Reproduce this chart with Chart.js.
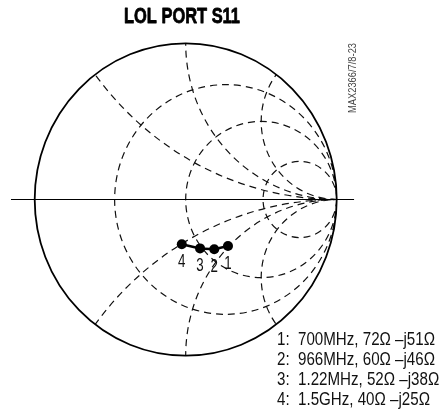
<!DOCTYPE html>
<html><head><meta charset="utf-8">
<script src="https://cdn.jsdelivr.net/npm/chart.js@4"></script>
<style>html,body{margin:0;padding:0;background:#fff}#wrap{width:440px;height:412px;position:relative}</style>
</head><body><div id="wrap"><canvas id="c" width="440" height="412"></canvas></div>
<script>
// ---- data ----
const title = 'LOL PORT S11';
const figureId = 'MAX2366/7/8-23';
const pointLabels = ['1', '2', '3', '4'];
const frequencies = ['700MHz', '966MHz', '1.22MHz', '1.5GHz'];
const resistance = [72, 60, 52, 40];
const reactance = [-51, -46, -38, -25];
// reflection coefficient
const gammaRe = [0.280, 0.189, 0.095, -0.026];
const gammaIm = [-0.298, -0.319, -0.313, -0.286];
// Smith chart grid values
const rGrid = [0.36, 1, 3.1];
const xGrid = [0.5, 1, 2];

const FONT = '"Liberation Sans", Arial, sans-serif';

// draw text horizontally condensed to a given width (or scale factor)
function narrowText(ctx, txt, x, y, opts) {
  ctx.save();
  ctx.font = opts.font;
  const w = ctx.measureText(txt).width;
  const sx = opts.width ? opts.width / w : (opts.scale || 1);
  ctx.translate(x, y);
  if (opts.rotate) ctx.rotate(opts.rotate);
  ctx.scale(sx, 1);
  ctx.textAlign = opts.align || 'left';
  ctx.textBaseline = opts.baseline || 'alphabetic';
  ctx.fillStyle = opts.color || '#000';
  ctx.fillText(txt, 0, 0);
  if (opts.stroke) {
    ctx.strokeStyle = opts.color || '#000';
    ctx.lineWidth = opts.stroke;
    ctx.lineJoin = 'round';
    ctx.strokeText(txt, 0, 0);
  }
  ctx.restore();
  return sx;
}

const smithPlugin = {
  id: 'smith',
  beforeDatasetsDraw(chart) {
    const ctx = chart.ctx, xs = chart.scales.x, ys = chart.scales.y;
    const px = v => xs.getPixelForValue(v), py = v => ys.getPixelForValue(v);
    const ell = (cx, cy, r) => {
      const X = px(cx), Y = py(cy);
      const rx = px(cx + r) - X, ry = py(cy) - py(cy + r);
      ctx.beginPath(); ctx.ellipse(X, Y, Math.abs(rx), Math.abs(ry), 0, 0, Math.PI * 2);
    };
    ctx.save();
    ell(0, 0, 1); ctx.clip();
    ctx.strokeStyle = '#111'; ctx.lineWidth = 1.2; ctx.setLineDash([7, 5]);
    rGrid.forEach(r => { ell(r / (1 + r), 0, 1 / (1 + r)); ctx.stroke(); });
    xGrid.forEach(x => {
      ell(1, 1 / x, 1 / x); ctx.stroke();
      ell(1, -1 / x, 1 / x); ctx.stroke();
    });
    ctx.restore();
    ctx.save();
    ctx.strokeStyle = '#000'; ctx.lineWidth = 1.8; ctx.setLineDash([]);
    ell(0, 0, 1); ctx.stroke();
    ctx.lineWidth = 1.2;
    ctx.beginPath(); ctx.moveTo(px(-1.157), py(0)); ctx.lineTo(px(1.115), py(0)); ctx.stroke();
    ctx.restore();
  },
  afterDatasetsDraw(chart) {
    const ctx = chart.ctx, xs = chart.scales.x, ys = chart.scales.y;
    // point labels
    pointLabels.forEach((l, i) => {
      narrowText(ctx, l, xs.getPixelForValue(gammaRe[i]), ys.getPixelForValue(gammaIm[i]) + 22.5,
        { font: '18px ' + FONT, scale: 0.74, align: 'center', color: '#111' });
    });
    // legend lines
    let sx = null;
    pointLabels.forEach((l, i) => {
      const txt = l + ':  ' + frequencies[i] + ', ' + resistance[i] + '\u03A9 \u2013j' + Math.abs(reactance[i]) + '\u03A9';
      const o = { font: '18px ' + FONT, color: '#111' };
      if (sx === null) o.width = 158; else o.scale = sx;
      const s = narrowText(ctx, txt, 277, 345 + i * 20, o);
      if (sx === null) sx = s;
    });
    // title
    narrowText(ctx, title, 182, 23, { font: 'bold 22px ' + FONT, width: 116, align: 'center', stroke: 0.8 });
    // figure id
    narrowText(ctx, figureId, 356, 78, { font: '11px ' + FONT, width: 70, align: 'center', rotate: -Math.PI / 2, color: '#444' });
  }
};

new Chart(document.getElementById('c'), {
  type: 'scatter',
  data: {
    datasets: [{
      data: gammaRe.map((x, i) => ({ x, y: gammaIm[i] })),
      showLine: true,
      borderColor: '#000', borderWidth: 2.5,
      pointRadius: 5, pointBackgroundColor: '#000', pointBorderColor: '#000', pointBorderWidth: 0,
      clip: false
    }]
  },
  options: {
    responsive: false, animation: false, devicePixelRatio: 1,
    layout: { padding: { left: 34.7, right: 103.3, top: 43.3, bottom: 56.3 } },
    scales: {
      x: { type: 'linear', min: -1, max: 1, display: false },
      y: { type: 'linear', min: -1, max: 1, display: false }
    },
    plugins: { legend: { display: false }, tooltip: { enabled: false }, title: { display: false } }
  },
  plugins: [smithPlugin]
});
</script></body></html>
